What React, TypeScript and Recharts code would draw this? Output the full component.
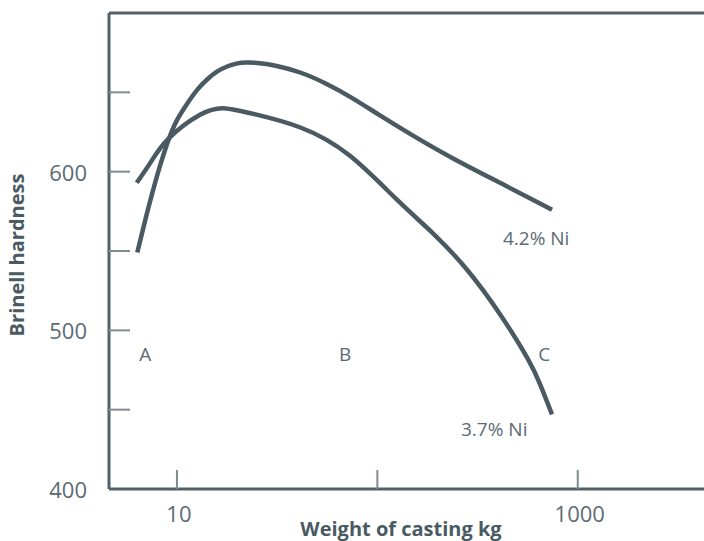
import React from 'react';
import { LineChart, Line, XAxis, YAxis, ReferenceLine, ReferenceDot } from 'recharts';

// hardness against casting weight (kg, log scale) for two nickel contents
const weight42 = [6.34, 7.53, 9.06, 10.0, 11.25, 12.6, 14.2, 15.9, 17.8, 19.8, 21.9, 26, 30.9, 41.2, 54.9, 73.2, 103, 149, 231, 410, 744];
const hardness42 = [549, 588, 621, 633.2, 643, 652, 658.5, 663.5, 666.5, 668.3, 669, 668.6, 667, 663, 656, 647.4, 635.4, 623, 609, 593, 576];
const weight37 = [6.3, 7.4, 9.1, 13.1, 17, 23, 41, 73, 126, 190, 281, 410, 558, 649, 744];
const hardness37 = [593, 606, 621, 636, 640, 637, 628, 610, 582, 561, 538, 510, 483, 466, 447];

const xTicks = [10, 100, 1000];
const xTickLabels = ['10', '', '1000'];
const yTicks = [400, 450, 500, 550, 600, 650];
const yTickLabels = ['400', '', '500', '', '600', ''];

// text notes on the plot, anchored in data units
const notes = [
  { text: 'A', kg: 6.95, hb: 485 },
  { text: 'B', kg: 69, hb: 485 },
  { text: 'C', kg: 680, hb: 485 },
  { text: '4.2% Ni', kg: 620, hb: 558 },
  { text: '3.7% Ni', kg: 383, hb: 438 },
];

const series42 = weight42.map((kg, i) => ({ kg, hb: hardness42[i] }));
const series37 = weight37.map((kg, i) => ({ kg, hb: hardness37[i] }));

const AXIS = '#52626b';
const TICK = '#7f8b92';
const INK = '#4a5a63';
const TEXT = '#5b6b74';
const FONT = '"Open Sans", sans-serif';

const PLOT_LEFT = 109;
const PLOT_BOTTOM = 489;

const YTick = (props: any) => {
  const { y, payload } = props;
  const i = yTicks.indexOf(payload.value);
  return (
    <g>
      {payload.value !== 400 && (
        <line x1={PLOT_LEFT - 2} x2={PLOT_LEFT + 21} y1={y} y2={y} stroke={TICK} strokeWidth={2} />
      )}
      <text x={87} y={y} textAnchor="end" dominantBaseline="central" fill={TEXT} fontSize={22} fontFamily={FONT}>
        {yTickLabels[i]}
      </text>
    </g>
  );
};

const XTick = (props: any) => {
  const { x, payload } = props;
  const i = xTicks.indexOf(payload.value);
  return (
    <g>
      <line x1={x} x2={x} y1={PLOT_BOTTOM} y2={PLOT_BOTTOM - 19} stroke={TICK} strokeWidth={2} />
      <text x={x + 2} y={513} textAnchor="middle" dominantBaseline="central" fill={TEXT} fontSize={22} fontFamily={FONT}>
        {xTickLabels[i]}
      </text>
    </g>
  );
};

const App = () => (
  <div style={{ position: 'absolute', left: 0, top: 0, width: 704, height: 541, overflow: 'hidden', background: '#fff' }}>
    <LineChart width={704} height={541} margin={{ top: 13, right: 0, bottom: 0, left: 0 }}>
      <XAxis
        type="number"
        dataKey="kg"
        scale="log"
        domain={[4.58, 4266]}
        allowDataOverflow
        ticks={xTicks}
        tick={XTick}
        tickLine={false}
        height={52}
        axisLine={{ stroke: AXIS, strokeWidth: 3 }}
        label={{
          content: () => (
            <text x={401} y={528} textAnchor="middle" dominantBaseline="central" fill={INK} fontSize={20} fontWeight={700} fontFamily={FONT}>
              Weight of casting kg
            </text>
          ),
        }}
      />
      <YAxis
        type="number"
        domain={[400, 700]}
        ticks={yTicks}
        tick={YTick}
        tickLine={false}
        width={109}
        axisLine={{ stroke: AXIS, strokeWidth: 3 }}
        label={{
          content: () => (
            <text transform="translate(16,255) rotate(-90)" textAnchor="middle" dominantBaseline="central" fill={INK} fontSize={20} fontWeight={700} fontFamily={FONT}>
              Brinell hardness
            </text>
          ),
        }}
      />
      <ReferenceLine y={700} stroke={AXIS} strokeWidth={3} />
      <Line data={series42} dataKey="hb" type="basis" stroke={INK} strokeWidth={4.5} dot={false} isAnimationActive={false} />
      <Line data={series37} dataKey="hb" type="natural" stroke={INK} strokeWidth={4.5} dot={false} isAnimationActive={false} />
      {notes.map((n) => (
        <ReferenceDot
          key={n.text}
          x={n.kg}
          y={n.hb}
          r={0}
          shape={(p: any) => (
            <text x={p.cx} y={p.cy} textAnchor="middle" dominantBaseline="central" fill={TEXT} fontSize={19} fontFamily={FONT}>
              {n.text}
            </text>
          )}
        />
      ))}
    </LineChart>
  </div>
);

export default App;
